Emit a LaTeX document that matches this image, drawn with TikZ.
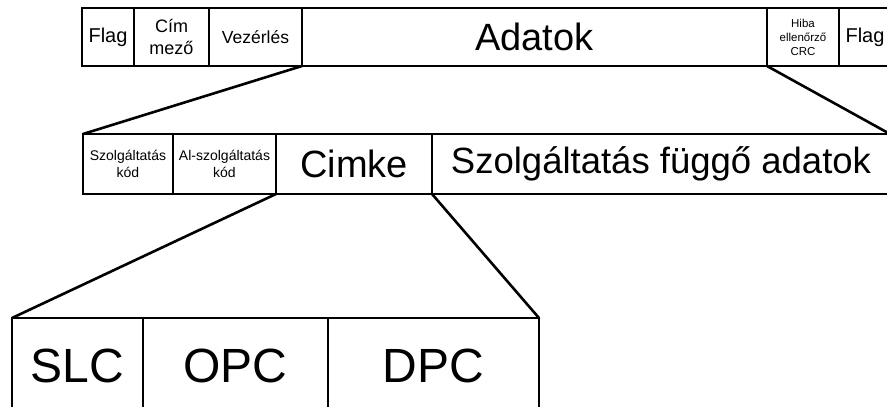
\documentclass[tikz,border=0pt]{standalone}
\usepackage{fontspec}
\setmainfont{Liberation Sans}
\usepackage{tikz}
\usetikzlibrary{positioning}
\newcommand{\fsz}[2]{\fontsize{#1}{#2}\selectfont}
\tikzset{
  field/.style={draw,line width=2.6pt,outer sep=0pt,inner sep=0pt,align=center},
  link/.style={line width=2.6pt},
  toprow/.style={field,minimum height=58pt},
  midrow/.style={field,minimum height=60pt},
  lowrow/.style={field,minimum height=96pt,font=\fsz{48}{50}}
}

\begin{document}
\begin{tikzpicture}[x=1pt,y=-1pt]
  \useasboundingbox (0,0) rectangle (887,407);
  \clip (0,0) rectangle (887,407);
  % frame fields
  \node[toprow,anchor=north west,minimum width=52pt,font=\fsz{20}{22}] (flagA) at (82,8) {Flag};
  \node[toprow,right=0pt of flagA,minimum width=75pt,font=\fsz{18}{22}] (cim) {Cím\\mező};
  \node[toprow,right=0pt of cim,minimum width=93pt,font=\fsz{17.5}{20}] (vez) {Vezérlés};
  \node[toprow,right=0pt of vez,minimum width=465pt,font=\fsz{38}{40}] (adat) {Adatok};
  \node[toprow,right=0pt of adat,minimum width=72pt,font=\fsz{11.5}{14}] (hiba) {Hiba\\ellenőrző\\CRC};
  \node[toprow,right=0pt of hiba,minimum width=52pt,font=\fsz{20}{22}] (flagB) {Flag};
  % data fields
  \node[midrow,anchor=north west,minimum width=90pt,font=\fsz{14}{17}] (szk) at (83,134) {Szolgáltatás\\kód};
  \node[midrow,right=0pt of szk,minimum width=103pt,font=\fsz{14}{17}] (alsz) {Al-szolgáltatás\\kód};
  \node[midrow,right=0pt of alsz,minimum width=156pt,font=\fsz{38}{40}] (cimke) {Cimke};
  \node[midrow,right=0pt of cimke,minimum width=458pt,font=\fsz{36.5}{40}] (sfa) {Szolgáltatás függő adatok};
  % label fields
  \node[lowrow,anchor=north west,minimum width=131pt] (slc) at (12,318) {SLC};
  \node[lowrow,right=0pt of slc,minimum width=185pt] (opc) {OPC};
  \node[lowrow,right=0pt of opc,minimum width=211pt] (dpc) {DPC};
  % zoom lines
  \draw[link] (vez.south east) -- (szk.north west);
  \draw[link] (hiba.south west) -- (sfa.north east);
  \draw[link] (alsz.south east) -- (slc.north west);
  \draw[link] (cimke.south east) -- (dpc.north east);
\end{tikzpicture}
\end{document}
